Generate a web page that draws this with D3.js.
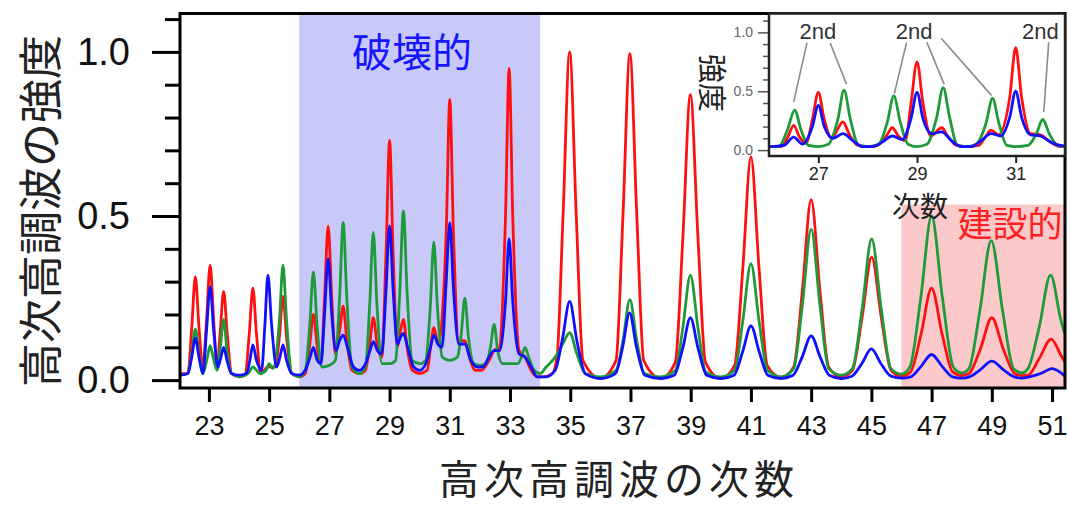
<!DOCTYPE html>
<html><head><meta charset="utf-8">
<script src="https://cdn.jsdelivr.net/npm/d3@7/dist/d3.min.js"></script>
<style>body{margin:0;background:#fff}</style>
</head><body>
<svg id="c" width="1068" height="507"></svg>
<script>
// ---- data (harmonic order, intensity) ----
const xTicks = [23,25,27,29,31,33,35,37,39,41,43,45,47,49,51];
const yMajor = [0.0,0.5,1.0];
const yMinor = [0.1,0.2,0.3,0.4,0.6,0.7,0.8,0.9,1.1];
const insetXTicks = [27,29,31];
const insetYMajor = [0.0,0.5,1.0];
const insetYMinor = [0.1,0.2,0.3,0.4,0.6,0.7,0.8,0.9,1.1];
const destructiveRange = [26,34];
const constructiveRange = [46,51.43];
const constructiveTop = 0.535;

const redMain = [[22.04,0.02],[22.3,0.02],[22.43,0.16],[22.55,0.315],[22.67,0.16],[22.8,0.04],[22.92,0.18],[23.04,0.35],[23.16,0.18],[23.27,0.04],[23.37,0.14],[23.49,0.27],[23.61,0.14],[23.75,0.02],[24.0,0.01],[24.2,0.015],[24.34,0.14],[24.46,0.28],[24.58,0.14],[24.72,0.02],[24.96,0.04],[25.2,0.04],[25.34,0.13],[25.46,0.255],[25.58,0.13],[25.75,0.02],[26.0,0.01],[26.2,0.02],[26.35,0.11],[26.47,0.2],[26.6,0.1],[26.72,0.05],[26.84,0.25],[26.96,0.47],[27.08,0.25],[27.2,0.08],[27.34,0.15],[27.46,0.225],[27.58,0.12],[27.75,0.03],[28.0,0.02],[28.2,0.03],[28.34,0.11],[28.46,0.19],[28.6,0.1],[28.74,0.07],[28.88,0.38],[29.0,0.73],[29.12,0.38],[29.26,0.1],[29.36,0.15],[29.46,0.185],[29.58,0.1],[29.75,0.03],[30.0,0.02],[30.25,0.03],[30.36,0.1],[30.47,0.16],[30.62,0.11],[30.88,0.45],[31.0,0.855],[31.12,0.45],[31.3,0.12],[31.5,0.12],[31.65,0.07],[31.85,0.03],[32.05,0.03],[32.3,0.06],[32.47,0.09],[32.65,0.1],[32.85,0.5],[32.97,0.95],[33.09,0.5],[33.3,0.09],[33.5,0.07],[33.7,0.03],[33.9,0.01],[34.1,0.01],[34.4,0.02],[34.56,0.07],[34.76,0.5],[34.98,1.0],[35.2,0.5],[35.42,0.06],[36.0,0.005],[36.52,0.06],[36.75,0.5],[36.98,0.995],[37.21,0.5],[37.44,0.06],[38.0,0.005],[38.49,0.055],[38.74,0.435],[38.99,0.87],[39.24,0.435],[39.49,0.055],[40.0,0.005],[40.46,0.045],[40.73,0.34],[41.0,0.68],[41.27,0.34],[41.54,0.045],[42.0,0.008],[42.42,0.04],[42.71,0.275],[43.0,0.55],[43.29,0.275],[43.58,0.04],[44.0,0.01],[44.37,0.03],[44.69,0.19],[45.01,0.375],[45.33,0.19],[45.65,0.03],[46.0,0.012],[46.3,0.025],[46.65,0.14],[47.0,0.28],[47.35,0.14],[47.7,0.025],[48.0,0.014],[48.24,0.02],[48.62,0.095],[49.0,0.19],[49.38,0.095],[49.76,0.02],[50.0,0.014],[50.2,0.015],[50.57,0.065],[50.97,0.125],[51.3,0.075],[51.43,0.055]];

const greenMain = [[22.04,0.015],[22.3,0.02],[22.43,0.08],[22.55,0.155],[22.67,0.08],[22.8,0.02],[22.95,0.07],[23.04,0.105],[23.14,0.07],[23.27,0.03],[23.38,0.1],[23.49,0.185],[23.6,0.09],[23.75,0.02],[24.0,0.01],[24.3,0.02],[24.46,0.04],[24.7,0.02],[24.9,0.03],[25.0,0.05],[25.12,0.035],[25.34,0.18],[25.46,0.35],[25.58,0.18],[25.75,0.02],[26.0,0.01],[26.2,0.03],[26.35,0.17],[26.47,0.33],[26.59,0.17],[26.75,0.04],[27.0,0.045],[27.2,0.06],[27.34,0.25],[27.46,0.48],[27.58,0.25],[27.75,0.04],[28.0,0.02],[28.2,0.04],[28.34,0.23],[28.46,0.45],[28.58,0.23],[28.75,0.05],[29.0,0.05],[29.2,0.06],[29.34,0.27],[29.46,0.515],[29.58,0.27],[29.75,0.06],[30.0,0.05],[30.2,0.06],[30.35,0.22],[30.47,0.42],[30.59,0.22],[30.75,0.07],[31.0,0.06],[31.25,0.07],[31.38,0.14],[31.5,0.25],[31.62,0.13],[31.8,0.05],[32.0,0.045],[32.2,0.05],[32.35,0.1],[32.47,0.17],[32.59,0.09],[32.75,0.05],[33.0,0.05],[33.25,0.05],[33.38,0.07],[33.5,0.1],[33.62,0.07],[33.8,0.03],[34.0,0.02],[34.2,0.04],[34.5,0.07],[34.75,0.11],[34.98,0.145],[35.22,0.08],[35.5,0.02],[36.0,0.01],[36.52,0.03],[36.75,0.12],[36.98,0.245],[37.21,0.12],[37.46,0.02],[38.0,0.01],[38.49,0.03],[38.74,0.16],[38.99,0.32],[39.24,0.16],[39.5,0.025],[40.0,0.01],[40.46,0.03],[40.73,0.18],[41.0,0.355],[41.27,0.18],[41.55,0.03],[42.0,0.01],[42.42,0.035],[42.71,0.23],[43.0,0.46],[43.29,0.23],[43.58,0.035],[44.0,0.015],[44.37,0.035],[44.69,0.215],[45.01,0.43],[45.33,0.215],[45.65,0.035],[46.0,0.018],[46.28,0.04],[46.64,0.25],[47.0,0.5],[47.36,0.25],[47.72,0.04],[48.0,0.022],[48.24,0.035],[48.6,0.21],[48.98,0.425],[49.36,0.21],[49.72,0.035],[50.0,0.022],[50.2,0.035],[50.57,0.16],[50.95,0.32],[51.3,0.18],[51.43,0.14]];

const blueMain = [[22.04,0.015],[22.3,0.02],[22.43,0.07],[22.55,0.128],[22.67,0.07],[22.8,0.02],[22.92,0.15],[23.04,0.285],[23.16,0.15],[23.3,0.04],[23.4,0.07],[23.49,0.1],[23.6,0.06],[23.75,0.02],[24.0,0.015],[24.25,0.02],[24.36,0.06],[24.46,0.107],[24.58,0.06],[24.75,0.03],[24.86,0.17],[24.96,0.32],[25.08,0.17],[25.25,0.04],[25.36,0.07],[25.46,0.107],[25.58,0.06],[25.75,0.02],[26.0,0.015],[26.2,0.03],[26.36,0.07],[26.47,0.1],[26.6,0.06],[26.72,0.05],[26.84,0.2],[26.96,0.37],[27.08,0.2],[27.22,0.09],[27.34,0.12],[27.46,0.137],[27.6,0.1],[27.8,0.04],[28.0,0.03],[28.2,0.05],[28.35,0.09],[28.46,0.117],[28.6,0.09],[28.74,0.08],[28.88,0.27],[29.0,0.47],[29.12,0.27],[29.26,0.11],[29.36,0.13],[29.46,0.142],[29.6,0.1],[29.8,0.04],[30.0,0.03],[30.2,0.05],[30.36,0.1],[30.47,0.137],[30.6,0.11],[30.74,0.1],[30.88,0.3],[31.0,0.48],[31.12,0.28],[31.3,0.11],[31.5,0.11],[31.7,0.06],[31.9,0.04],[32.1,0.04],[32.3,0.07],[32.47,0.09],[32.65,0.09],[32.85,0.24],[32.97,0.43],[33.09,0.24],[33.3,0.08],[33.5,0.07],[33.7,0.04],[33.9,0.01],[34.2,0.01],[34.5,0.03],[34.75,0.13],[34.98,0.24],[35.22,0.12],[35.5,0.02],[36.0,0.005],[36.5,0.02],[36.74,0.1],[36.97,0.205],[37.2,0.1],[37.48,0.015],[38.0,0.005],[38.45,0.015],[38.73,0.095],[38.99,0.19],[39.25,0.095],[39.53,0.015],[40.0,0.005],[40.44,0.015],[40.72,0.085],[41.0,0.165],[41.28,0.085],[41.56,0.015],[42.0,0.005],[42.4,0.015],[42.7,0.07],[43.0,0.135],[43.3,0.07],[43.6,0.015],[44.0,0.005],[44.35,0.012],[44.68,0.05],[45.0,0.095],[45.32,0.05],[45.65,0.012],[46.0,0.006],[46.3,0.01],[46.65,0.042],[47.0,0.078],[47.35,0.042],[47.7,0.01],[48.0,0.006],[48.25,0.01],[48.62,0.032],[49.0,0.058],[49.38,0.032],[49.75,0.01],[50.0,0.006],[50.25,0.01],[50.62,0.02],[51.0,0.035],[51.43,0.012]];

const redInset = [[26.0,0.03],[26.25,0.03],[26.38,0.11],[26.5,0.21],[26.62,0.11],[26.75,0.06],[26.88,0.26],[27.0,0.49],[27.12,0.26],[27.27,0.1],[27.38,0.17],[27.5,0.24],[27.62,0.14],[27.8,0.04],[28.0,0.03],[28.2,0.04],[28.38,0.12],[28.5,0.19],[28.62,0.12],[28.76,0.08],[28.88,0.4],[29.0,0.75],[29.12,0.4],[29.28,0.12],[29.5,0.19],[29.62,0.12],[29.8,0.04],[30.0,0.03],[30.25,0.04],[30.4,0.12],[30.5,0.17],[30.65,0.13],[30.88,0.45],[31.0,0.87],[31.12,0.45],[31.3,0.14],[31.5,0.13],[31.7,0.07],[31.9,0.03],[32.0,0.03]];
const greenInset = [[26.0,0.03],[26.2,0.03],[26.38,0.18],[26.52,0.34],[26.65,0.17],[26.8,0.04],[27.0,0.03],[27.2,0.05],[27.4,0.27],[27.52,0.51],[27.65,0.26],[27.82,0.04],[28.0,0.03],[28.22,0.05],[28.4,0.24],[28.53,0.46],[28.66,0.24],[28.82,0.05],[29.0,0.03],[29.2,0.05],[29.4,0.28],[29.53,0.53],[29.66,0.28],[29.82,0.04],[30.0,0.03],[30.2,0.05],[30.4,0.23],[30.53,0.44],[30.66,0.23],[30.82,0.04],[31.0,0.03],[31.25,0.04],[31.42,0.14],[31.55,0.26],[31.68,0.14],[31.85,0.04],[32.0,0.03]];
const blueInset = [[26.0,0.03],[26.3,0.04],[26.5,0.11],[26.68,0.05],[26.88,0.2],[27.0,0.38],[27.12,0.2],[27.3,0.1],[27.5,0.14],[27.7,0.08],[27.9,0.03],[28.1,0.03],[28.3,0.07],[28.5,0.12],[28.7,0.09],[28.88,0.27],[29.0,0.49],[29.12,0.27],[29.3,0.14],[29.5,0.155],[29.7,0.08],[29.9,0.03],[30.1,0.03],[30.3,0.08],[30.5,0.14],[30.7,0.12],[30.88,0.28],[31.0,0.5],[31.12,0.28],[31.3,0.13],[31.5,0.12],[31.7,0.07],[31.9,0.04],[32.0,0.035]];

// "2nd" annotations (inset coordinates)
const secondLabels = [[26.99,1.01],[28.94,1.01],[31.5,1.01]];
const secondLeaders = [[[26.77,0.91],[26.5,0.41]],[[27.24,0.91],[27.57,0.56]],[[28.79,0.915],[28.54,0.48]],[[29.2,0.915],[29.55,0.56]],[[29.49,0.95],[30.51,0.465]],[[31.67,0.915],[31.57,0.325]]];

// ---- drawing ----
const svg = d3.select("#c");
const L=180, R=1065, T=13.5, B=388;
const x = d3.scaleLinear().domain([22.04,51.43]).range([L,R]);
const y = d3.scaleLinear().domain([-0.024,1.117]).range([B,T]);
const NUM = "'Liberation Sans', Arial, sans-serif";
const JP = "'Noto Sans CJK JP', 'Noto Sans CJK SC', sans-serif";
const LW = 2.8;

svg.append("rect").attr("x",x(destructiveRange[0])).attr("y",T).attr("width",x(destructiveRange[1])-x(destructiveRange[0])).attr("height",B-T).attr("fill","#c9c9f9");
svg.append("rect").attr("x",x(constructiveRange[0])).attr("y",y(constructiveTop)).attr("width",x(constructiveRange[1])-x(constructiveRange[0])).attr("height",B-y(constructiveTop)).attr("fill","#fbc9c9");

const defs = svg.append("defs");
defs.append("clipPath").attr("id","pc").append("rect").attr("x",L).attr("y",T).attr("width",R-L).attr("height",B-T);
const line = d3.line().x(d=>x(d[0])).y(d=>y(d[1])).curve(d3.curveMonotoneX);
const series = [[redMain,"#ff1010"],[greenMain,"#1f9a3a"],[blueMain,"#1010ff"]];
const pg = svg.append("g").attr("clip-path","url(#pc)");
series.forEach(([d,c])=>pg.append("path").datum(d).attr("d",line).attr("fill","none").attr("stroke",c).attr("stroke-width",LW).attr("stroke-linejoin","round"));

// axes
const yAxMaj = d3.axisLeft(y).tickValues(yMajor).tickSize(28).tickPadding(22).tickFormat(d3.format(".1f"));
const yAxMin = d3.axisLeft(y).tickValues(yMinor).tickSize(15).tickFormat("");
const gy1 = svg.append("g").attr("transform",`translate(${L},0)`).call(yAxMaj);
const gy2 = svg.append("g").attr("transform",`translate(${L},0)`).call(yAxMin);
[gy1,gy2].forEach(g=>{g.select(".domain").remove(); g.selectAll("line").attr("stroke","#000").attr("stroke-width",3);});
gy1.selectAll("text").attr("font-family",NUM).attr("font-size",38).attr("fill","#111");

const xAx = d3.axisBottom(x).tickValues(xTicks).tickSize(14).tickPadding(14).tickFormat(d3.format("d"));
const gx = svg.append("g").attr("transform",`translate(0,${B})`).call(xAx);
gx.select(".domain").remove();
gx.selectAll("line").attr("stroke","#000").attr("stroke-width",3);
gx.selectAll("text").attr("font-family","'Liberation Sans Narrow', "+NUM).attr("font-size",27).attr("fill","#111");

svg.append("rect").attr("x",L).attr("y",T).attr("width",R-L).attr("height",B-T).attr("fill","none").attr("stroke","#000").attr("stroke-width",3);

// titles
svg.append("text").attr("x",619).attr("y",494).attr("text-anchor","middle").attr("font-family",JP).attr("font-size",40).attr("letter-spacing",5).attr("fill","#222").text("高次高調波の次数");
svg.append("text").attr("transform","translate(38,211) rotate(-90)").attr("text-anchor","middle").attr("dominant-baseline","central").attr("font-family",JP).attr("font-size",44).attr("fill","#222").text("高次高調波の強度");
svg.append("text").attr("x",412).attr("y",50).attr("text-anchor","middle").attr("dominant-baseline","central").attr("font-family",JP).attr("font-size",40).attr("fill","#1515ff").text("破壊的");
svg.append("text").attr("x",1010).attr("y",221).attr("text-anchor","middle").attr("dominant-baseline","central").attr("font-family",JP).attr("font-size",35).attr("fill","#ff2020").text("建設的");

// inset
const iL=769, iR=1065, iT=13.5, iB=156;
const xi = d3.scaleLinear().domain([26,32]).range([iL,iR]);
const yi = d3.scaleLinear().domain([-0.05,1.16]).range([iB,iT]);
svg.append("rect").attr("x",iL).attr("y",iT).attr("width",iR-iL).attr("height",iB-iT).attr("fill","#fff");
defs.append("clipPath").attr("id","ic").append("rect").attr("x",iL).attr("y",iT).attr("width",iR-iL).attr("height",iB-iT);
const iline = d3.line().x(d=>xi(d[0])).y(d=>yi(d[1])).curve(d3.curveMonotoneX);
const ig = svg.append("g").attr("clip-path","url(#ic)");
[[redInset,"#ff1010"],[greenInset,"#1f9a3a"],[blueInset,"#1010ff"]].forEach(([d,c])=>ig.append("path").datum(d).attr("d",iline).attr("fill","none").attr("stroke",c).attr("stroke-width",LW));
secondLeaders.forEach(s=>svg.append("line").attr("x1",xi(s[0][0])).attr("y1",yi(s[0][1])).attr("x2",xi(s[1][0])).attr("y2",yi(s[1][1])).attr("stroke","#8a8a8a").attr("stroke-width",1.6));
secondLabels.forEach(p=>svg.append("text").attr("x",xi(p[0])).attr("y",yi(p[1])).attr("text-anchor","middle").attr("dominant-baseline","central").attr("font-family",NUM).attr("font-size",22).attr("fill","#333").text("2nd"));

const iyMaj = d3.axisLeft(yi).tickValues(insetYMajor).tickSize(11).tickPadding(5).tickFormat(d3.format(".1f"));
const iyMin = d3.axisLeft(yi).tickValues(insetYMinor).tickSize(6).tickFormat("");
const giy1 = svg.append("g").attr("transform",`translate(${iL},0)`).call(iyMaj);
const giy2 = svg.append("g").attr("transform",`translate(${iL},0)`).call(iyMin);
[giy1,giy2].forEach(g=>{g.select(".domain").remove(); g.selectAll("line").attr("stroke","#555").attr("stroke-width",1.5);});
giy1.selectAll("text").attr("font-family",NUM).attr("font-size",14).attr("fill","#666");
const ixAx = d3.axisBottom(xi).tickValues(insetXTicks).tickSize(7).tickPadding(4).tickFormat(d3.format("d"));
const gix = svg.append("g").attr("transform",`translate(0,${iB})`).call(ixAx);
gix.select(".domain").remove();
gix.selectAll("line").attr("stroke","#222").attr("stroke-width",2);
gix.selectAll("text").attr("font-family",NUM).attr("font-size",18).attr("fill","#222");
svg.append("rect").attr("x",iL).attr("y",iT).attr("width",iR-iL).attr("height",iB-iT).attr("fill","none").attr("stroke","#222").attr("stroke-width",2.5);
svg.append("text").attr("x",920).attr("y",205).attr("text-anchor","middle").attr("dominant-baseline","central").attr("font-family",JP).attr("font-size",28).attr("fill","#222").text("次数");
svg.append("text").attr("transform","translate(714,83) rotate(90)").attr("text-anchor","middle").attr("dominant-baseline","central").attr("font-family",JP).attr("font-size",29).attr("fill","#222").text("強度");
</script>
</body></html>
